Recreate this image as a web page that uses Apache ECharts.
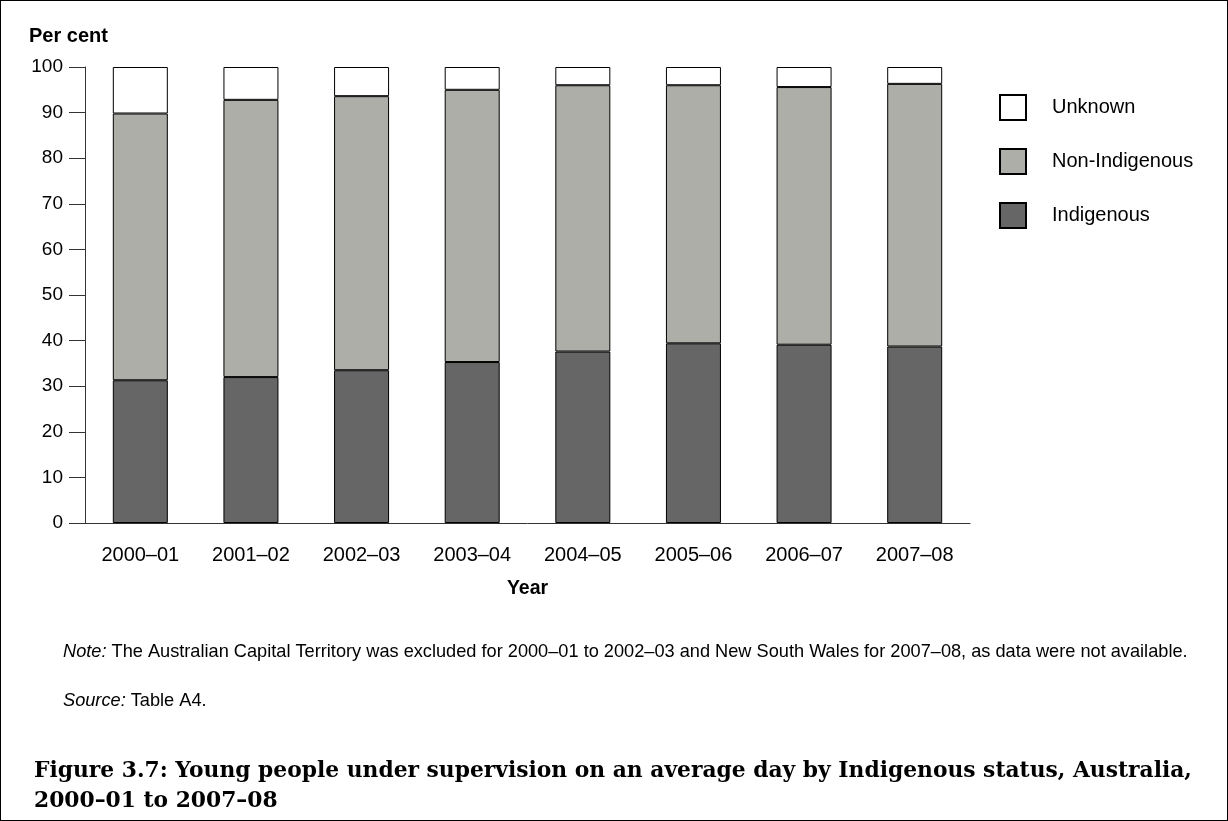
<!DOCTYPE html>
<html>
<head>
<meta charset="utf-8">
<script src="https://cdn.jsdelivr.net/npm/echarts@6/dist/echarts.min.js"></script>
<style>
html,body{margin:0;padding:0;background:#fff;}
#wrap{width:1228px;height:821px;box-sizing:border-box;border:1px solid #000;position:relative;}
#chart{position:absolute;left:0;top:0;width:1226px;height:819px;}
</style>
</head>
<body>
<div id="wrap"><div id="chart"></div></div>
<script>
const categories = ['2000–01','2001–02','2002–03','2003–04','2004–05','2005–06','2006–07','2007–08'];
const indigenous = [31.3, 32.0, 33.5, 35.3, 37.6, 39.4, 39.1, 38.7];
const nonIndigenous = [58.5, 60.8, 60.1, 59.7, 58.4, 56.6, 56.5, 57.6];
const unknown = [10.2, 7.2, 6.4, 5.0, 4.0, 4.0, 4.4, 3.7];
const yTicks = {min: 0, max: 100, interval: 10};

const chart = echarts.init(document.getElementById('chart'), null, {renderer: 'canvas'});
const font = '"Liberation Sans", Arial, sans-serif';
const border = {borderColor: '#000', borderWidth: 1};

chart.setOption({
  animation: false,
  textStyle: {fontFamily: font, color: '#000'},
  grid: {left: 84, right: 257, top: 66, bottom: 297, containLabel: false},
  legend: {
    orient: 'vertical', left: 993, top: 88,
    icon: 'rect',
    itemWidth: 26, itemHeight: 25, itemGap: 27,
    data: ['Unknown', 'Non-Indigenous', 'Indigenous'],
    textStyle: {fontSize: 20, color: '#000', fontFamily: font, padding: [0, 0, 0, 21]}
  },
  xAxis: {
    type: 'category', data: categories,
    axisLine: {lineStyle: {color: '#333', width: 1}},
    axisTick: {alignWithLabel: true, length: 16, lineStyle: {color: '#333'}},
    axisLabel: {fontSize: 20, color: '#000', margin: 22, fontFamily: font},
    name: 'Year', nameLocation: 'middle', nameGap: 56,
    nameTextStyle: {fontSize: 19.5, fontWeight: 'bold', color: '#000', fontFamily: font}
  },
  yAxis: {
    type: 'value', min: yTicks.min, max: yTicks.max, interval: yTicks.interval,
    axisLine: {show: true, lineStyle: {color: '#333', width: 1}},
    axisTick: {show: true, length: 16, lineStyle: {color: '#333'}},
    axisLabel: {fontSize: 19, color: '#000', margin: 22, fontFamily: font},
    splitLine: {show: false}
  },
  series: [
    {name: 'Indigenous', type: 'bar', stack: 'a', data: indigenous, barWidth: 55,
     itemStyle: Object.assign({color: '#666666'}, border)},
    {name: 'Non-Indigenous', type: 'bar', stack: 'a', data: nonIndigenous, barWidth: 55,
     itemStyle: Object.assign({color: '#adaea8'}, border)},
    {name: 'Unknown', type: 'bar', stack: 'a', data: unknown, barWidth: 55,
     itemStyle: Object.assign({color: '#ffffff'}, border)}
  ],
  graphic: [
    {type: 'text', left: 28, top: 25,
     style: {text: 'Per cent', font: 'bold 20px ' + font, fill: '#000'}},
    {type: 'text', left: 62, top: 642,
     style: {text: '{i|Note:} The Australian Capital Territory was excluded for 2000–01 to 2002–03 and New South Wales for 2007–08, as data were not available.',
       font: '18.2px ' + font, fill: '#000',
       rich: {i: {fontStyle: 'italic', fontSize: 18.2, fontFamily: font, fill: '#000'}}}},
    {type: 'text', left: 62, top: 691,
     style: {text: '{i|Source:} Table A4.', font: '18.2px ' + font, fill: '#000',
       rich: {i: {fontStyle: 'italic', fontSize: 18.2, fontFamily: font, fill: '#000'}}}},
    {type: 'text', left: 33, top: 755,
     style: {text: 'Figure 3.7: Young people under supervision on an average day by Indigenous status, Australia,\n2000–01 to 2007–08',
       font: 'bold 21.8px "DejaVu Serif", serif', lineHeight: 30, fill: '#000'}}
  ]
});
</script>
</body>
</html>
